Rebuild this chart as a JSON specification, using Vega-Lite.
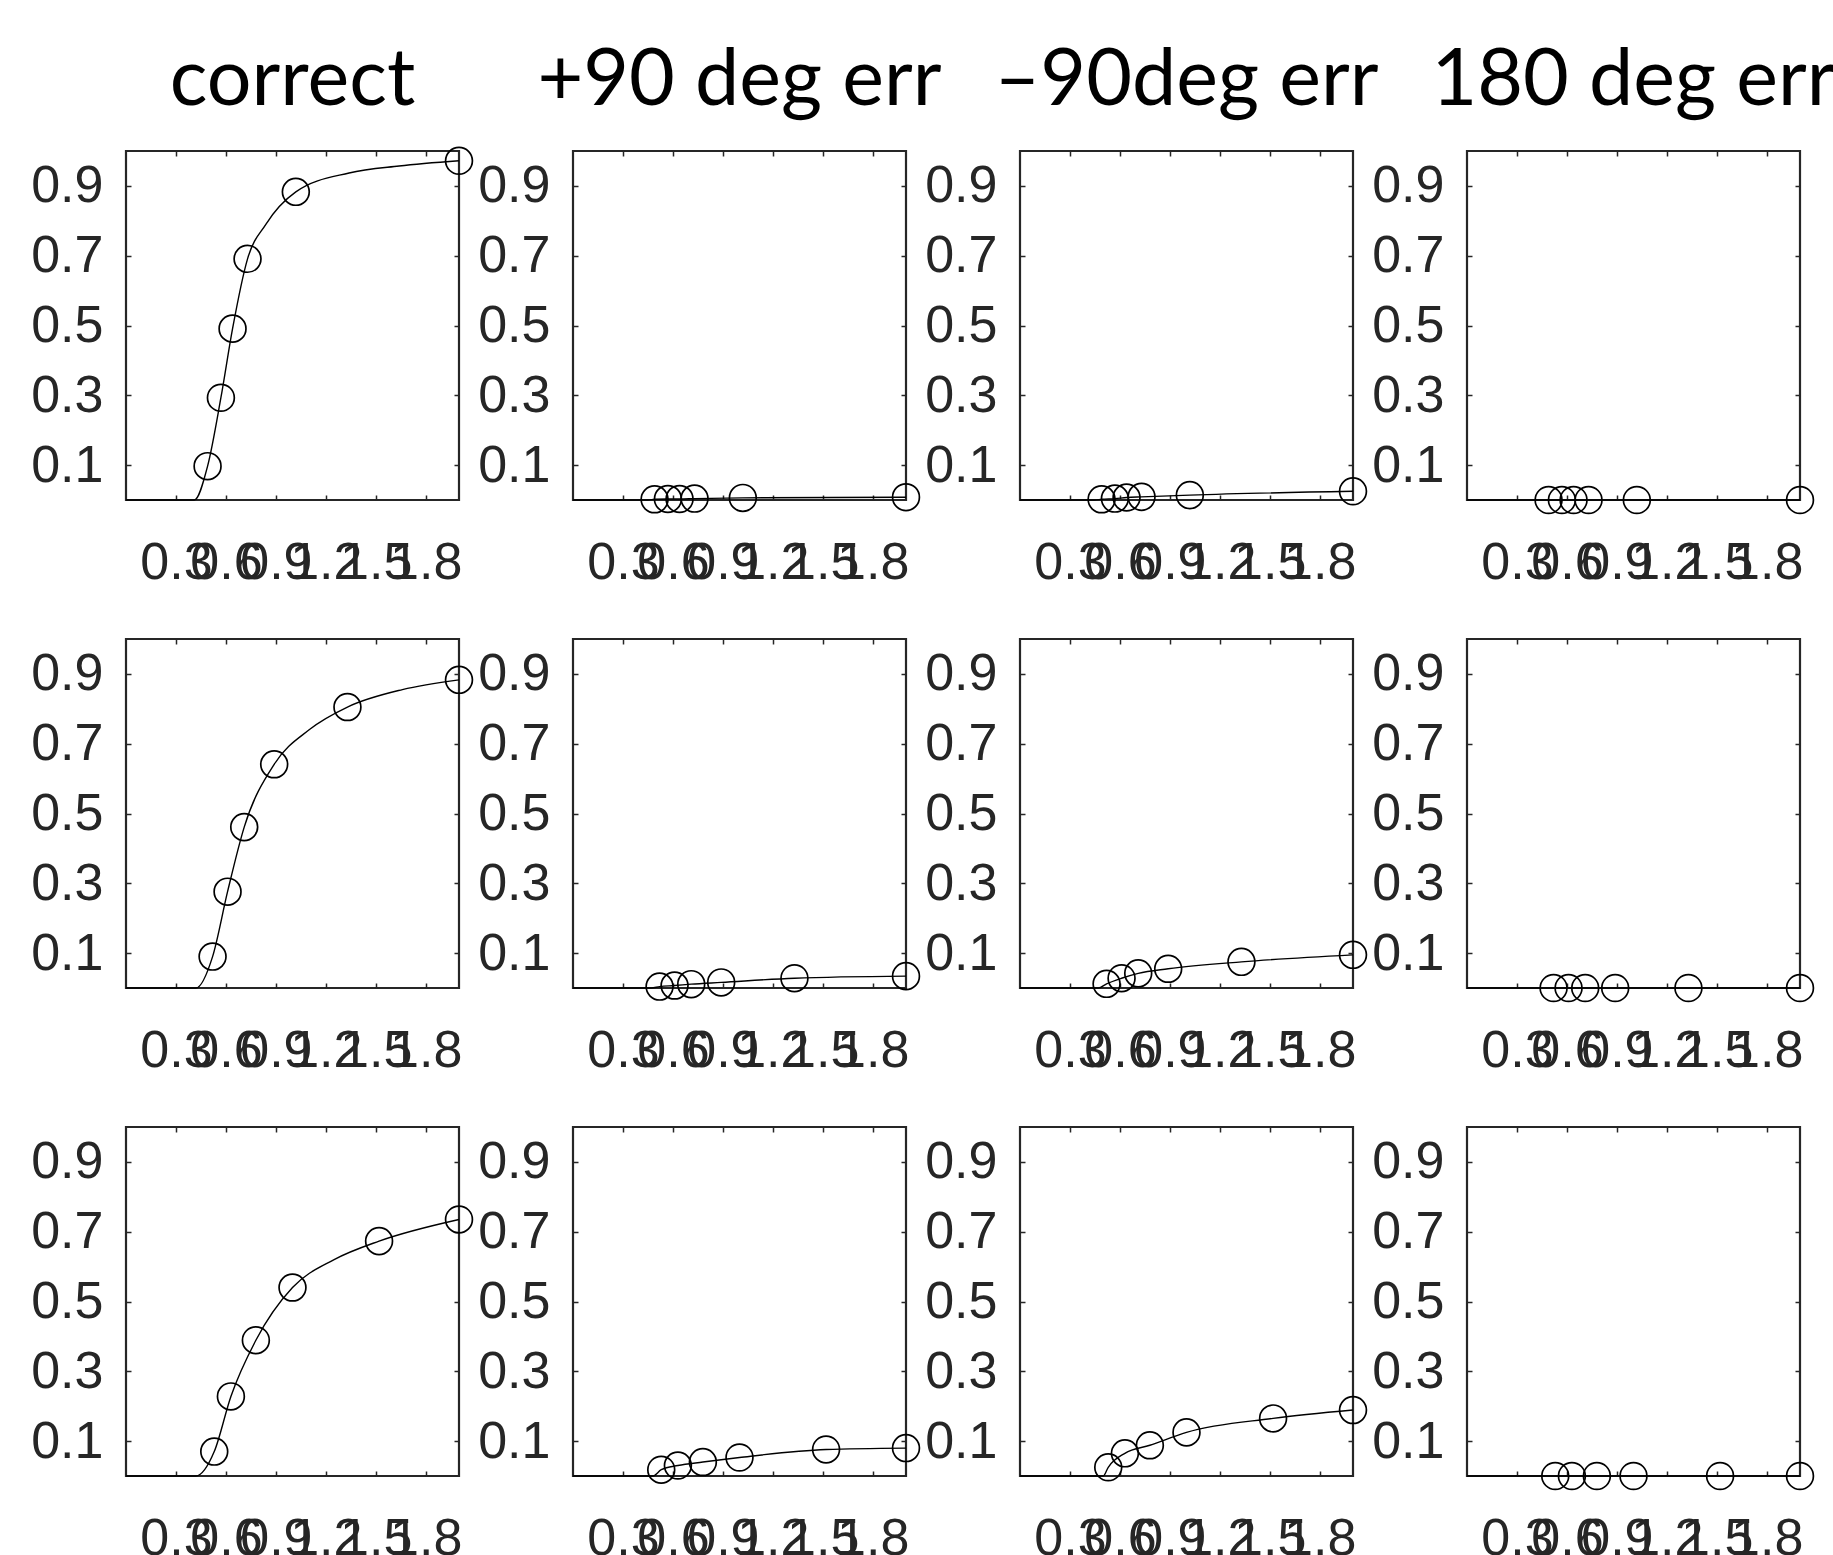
{
  "$schema": "https://vega.github.io/schema/vega-lite/v6.json",
  "padding": {"left": 29, "top": 42, "right": 0, "bottom": 0},
  "bounds": "flush",
  "spacing": {"column": 114, "row": 139},
  "data": {"values": [
    {"r":1,"c":"correct","k":"o","x":0.49,"y":0.097},
    {"r":1,"c":"correct","k":"o","x":0.57,"y":0.293},
    {"r":1,"c":"correct","k":"o","x":0.64,"y":0.491},
    {"r":1,"c":"correct","k":"o","x":0.73,"y":0.691},
    {"r":1,"c":"correct","k":"o","x":1.02,"y":0.883},
    {"r":1,"c":"correct","k":"o","x":2.0,"y":0.972},
    {"r":1,"c":"correct","k":"f","x":0,"y":0},
    {"r":1,"c":"correct","k":"f","x":0.41,"y":0},
    {"r":1,"c":"correct","k":"f","x":0.49,"y":0.097},
    {"r":1,"c":"correct","k":"f","x":0.57,"y":0.293},
    {"r":1,"c":"correct","k":"f","x":0.64,"y":0.491},
    {"r":1,"c":"correct","k":"f","x":0.73,"y":0.691},
    {"r":1,"c":"correct","k":"f","x":0.84,"y":0.79},
    {"r":1,"c":"correct","k":"f","x":1.02,"y":0.883},
    {"r":1,"c":"correct","k":"f","x":1.34,"y":0.937},
    {"r":1,"c":"correct","k":"f","x":1.64,"y":0.957},
    {"r":1,"c":"correct","k":"f","x":2.0,"y":0.972},

    {"r":1,"c":"+90 deg err","k":"o","x":0.49,"y":0.002},
    {"r":1,"c":"+90 deg err","k":"o","x":0.57,"y":0.003},
    {"r":1,"c":"+90 deg err","k":"o","x":0.64,"y":0.003},
    {"r":1,"c":"+90 deg err","k":"o","x":0.73,"y":0.004},
    {"r":1,"c":"+90 deg err","k":"o","x":1.02,"y":0.006},
    {"r":1,"c":"+90 deg err","k":"o","x":2.0,"y":0.008},
    {"r":1,"c":"+90 deg err","k":"f","x":0,"y":0},
    {"r":1,"c":"+90 deg err","k":"f","x":0.45,"y":0},
    {"r":1,"c":"+90 deg err","k":"f","x":0.49,"y":0.002},
    {"r":1,"c":"+90 deg err","k":"f","x":0.57,"y":0.003},
    {"r":1,"c":"+90 deg err","k":"f","x":0.64,"y":0.003},
    {"r":1,"c":"+90 deg err","k":"f","x":0.73,"y":0.004},
    {"r":1,"c":"+90 deg err","k":"f","x":1.02,"y":0.006},
    {"r":1,"c":"+90 deg err","k":"f","x":2.0,"y":0.008},

    {"r":1,"c":"–90deg err","k":"o","x":0.49,"y":0.002},
    {"r":1,"c":"–90deg err","k":"o","x":0.57,"y":0.004},
    {"r":1,"c":"–90deg err","k":"o","x":0.64,"y":0.007},
    {"r":1,"c":"–90deg err","k":"o","x":0.73,"y":0.009},
    {"r":1,"c":"–90deg err","k":"o","x":1.02,"y":0.014},
    {"r":1,"c":"–90deg err","k":"o","x":2.0,"y":0.025},
    {"r":1,"c":"–90deg err","k":"f","x":0,"y":0},
    {"r":1,"c":"–90deg err","k":"f","x":0.45,"y":0},
    {"r":1,"c":"–90deg err","k":"f","x":0.49,"y":0.002},
    {"r":1,"c":"–90deg err","k":"f","x":0.57,"y":0.004},
    {"r":1,"c":"–90deg err","k":"f","x":0.64,"y":0.007},
    {"r":1,"c":"–90deg err","k":"f","x":0.73,"y":0.009},
    {"r":1,"c":"–90deg err","k":"f","x":1.02,"y":0.014},
    {"r":1,"c":"–90deg err","k":"f","x":2.0,"y":0.025},

    {"r":1,"c":"180 deg err","k":"o","x":0.49,"y":0},
    {"r":1,"c":"180 deg err","k":"o","x":0.57,"y":0},
    {"r":1,"c":"180 deg err","k":"o","x":0.64,"y":0},
    {"r":1,"c":"180 deg err","k":"o","x":0.73,"y":0},
    {"r":1,"c":"180 deg err","k":"o","x":1.02,"y":0},
    {"r":1,"c":"180 deg err","k":"o","x":2.0,"y":0},
    {"r":1,"c":"180 deg err","k":"f","x":0,"y":0},
    {"r":1,"c":"180 deg err","k":"f","x":2.0,"y":0},

    {"r":2,"c":"correct","k":"o","x":0.52,"y":0.09},
    {"r":2,"c":"correct","k":"o","x":0.61,"y":0.276},
    {"r":2,"c":"correct","k":"o","x":0.71,"y":0.461},
    {"r":2,"c":"correct","k":"o","x":0.89,"y":0.641},
    {"r":2,"c":"correct","k":"o","x":1.33,"y":0.805},
    {"r":2,"c":"correct","k":"o","x":2.0,"y":0.883},
    {"r":2,"c":"correct","k":"f","x":0,"y":0},
    {"r":2,"c":"correct","k":"f","x":0.42,"y":0},
    {"r":2,"c":"correct","k":"f","x":0.52,"y":0.09},
    {"r":2,"c":"correct","k":"f","x":0.61,"y":0.276},
    {"r":2,"c":"correct","k":"f","x":0.71,"y":0.461},
    {"r":2,"c":"correct","k":"f","x":0.89,"y":0.641},
    {"r":2,"c":"correct","k":"f","x":1.1,"y":0.74},
    {"r":2,"c":"correct","k":"f","x":1.33,"y":0.805},
    {"r":2,"c":"correct","k":"f","x":1.66,"y":0.855},
    {"r":2,"c":"correct","k":"f","x":2.0,"y":0.883},

    {"r":2,"c":"+90 deg err","k":"o","x":0.52,"y":0.004},
    {"r":2,"c":"+90 deg err","k":"o","x":0.61,"y":0.007},
    {"r":2,"c":"+90 deg err","k":"o","x":0.71,"y":0.011},
    {"r":2,"c":"+90 deg err","k":"o","x":0.89,"y":0.016},
    {"r":2,"c":"+90 deg err","k":"o","x":1.33,"y":0.028},
    {"r":2,"c":"+90 deg err","k":"o","x":2.0,"y":0.034},
    {"r":2,"c":"+90 deg err","k":"f","x":0,"y":0},
    {"r":2,"c":"+90 deg err","k":"f","x":0.47,"y":0},
    {"r":2,"c":"+90 deg err","k":"f","x":0.52,"y":0.004},
    {"r":2,"c":"+90 deg err","k":"f","x":0.61,"y":0.007},
    {"r":2,"c":"+90 deg err","k":"f","x":0.71,"y":0.011},
    {"r":2,"c":"+90 deg err","k":"f","x":0.89,"y":0.016},
    {"r":2,"c":"+90 deg err","k":"f","x":1.33,"y":0.028},
    {"r":2,"c":"+90 deg err","k":"f","x":2.0,"y":0.034},

    {"r":2,"c":"–90deg err","k":"o","x":0.52,"y":0.012},
    {"r":2,"c":"–90deg err","k":"o","x":0.61,"y":0.028},
    {"r":2,"c":"–90deg err","k":"o","x":0.71,"y":0.042},
    {"r":2,"c":"–90deg err","k":"o","x":0.89,"y":0.055},
    {"r":2,"c":"–90deg err","k":"o","x":1.33,"y":0.075},
    {"r":2,"c":"–90deg err","k":"o","x":2.0,"y":0.095},
    {"r":2,"c":"–90deg err","k":"f","x":0,"y":0},
    {"r":2,"c":"–90deg err","k":"f","x":0.47,"y":0},
    {"r":2,"c":"–90deg err","k":"f","x":0.52,"y":0.012},
    {"r":2,"c":"–90deg err","k":"f","x":0.61,"y":0.028},
    {"r":2,"c":"–90deg err","k":"f","x":0.71,"y":0.042},
    {"r":2,"c":"–90deg err","k":"f","x":0.89,"y":0.055},
    {"r":2,"c":"–90deg err","k":"f","x":1.33,"y":0.075},
    {"r":2,"c":"–90deg err","k":"f","x":2.0,"y":0.095},

    {"r":2,"c":"180 deg err","k":"o","x":0.52,"y":0},
    {"r":2,"c":"180 deg err","k":"o","x":0.61,"y":0},
    {"r":2,"c":"180 deg err","k":"o","x":0.71,"y":0},
    {"r":2,"c":"180 deg err","k":"o","x":0.89,"y":0},
    {"r":2,"c":"180 deg err","k":"o","x":1.33,"y":0},
    {"r":2,"c":"180 deg err","k":"o","x":2.0,"y":0},
    {"r":2,"c":"180 deg err","k":"f","x":0,"y":0},
    {"r":2,"c":"180 deg err","k":"f","x":2.0,"y":0},

    {"r":3,"c":"correct","k":"o","x":0.53,"y":0.07},
    {"r":3,"c":"correct","k":"o","x":0.63,"y":0.228},
    {"r":3,"c":"correct","k":"o","x":0.78,"y":0.389},
    {"r":3,"c":"correct","k":"o","x":1.0,"y":0.54},
    {"r":3,"c":"correct","k":"o","x":1.52,"y":0.673},
    {"r":3,"c":"correct","k":"o","x":2.0,"y":0.735},
    {"r":3,"c":"correct","k":"f","x":0,"y":0},
    {"r":3,"c":"correct","k":"f","x":0.42,"y":0},
    {"r":3,"c":"correct","k":"f","x":0.53,"y":0.07},
    {"r":3,"c":"correct","k":"f","x":0.63,"y":0.228},
    {"r":3,"c":"correct","k":"f","x":0.78,"y":0.389},
    {"r":3,"c":"correct","k":"f","x":1.0,"y":0.54},
    {"r":3,"c":"correct","k":"f","x":1.25,"y":0.62},
    {"r":3,"c":"correct","k":"f","x":1.52,"y":0.673},
    {"r":3,"c":"correct","k":"f","x":2.0,"y":0.735},

    {"r":3,"c":"+90 deg err","k":"o","x":0.53,"y":0.018},
    {"r":3,"c":"+90 deg err","k":"o","x":0.63,"y":0.03},
    {"r":3,"c":"+90 deg err","k":"o","x":0.78,"y":0.04},
    {"r":3,"c":"+90 deg err","k":"o","x":1.0,"y":0.053},
    {"r":3,"c":"+90 deg err","k":"o","x":1.52,"y":0.076},
    {"r":3,"c":"+90 deg err","k":"o","x":2.0,"y":0.08},
    {"r":3,"c":"+90 deg err","k":"f","x":0,"y":0},
    {"r":3,"c":"+90 deg err","k":"f","x":0.48,"y":0},
    {"r":3,"c":"+90 deg err","k":"f","x":0.53,"y":0.018},
    {"r":3,"c":"+90 deg err","k":"f","x":0.63,"y":0.03},
    {"r":3,"c":"+90 deg err","k":"f","x":0.78,"y":0.04},
    {"r":3,"c":"+90 deg err","k":"f","x":1.0,"y":0.053},
    {"r":3,"c":"+90 deg err","k":"f","x":1.52,"y":0.076},
    {"r":3,"c":"+90 deg err","k":"f","x":2.0,"y":0.08},

    {"r":3,"c":"–90deg err","k":"o","x":0.53,"y":0.025},
    {"r":3,"c":"–90deg err","k":"o","x":0.63,"y":0.065},
    {"r":3,"c":"–90deg err","k":"o","x":0.78,"y":0.088},
    {"r":3,"c":"–90deg err","k":"o","x":1.0,"y":0.125},
    {"r":3,"c":"–90deg err","k":"o","x":1.52,"y":0.165},
    {"r":3,"c":"–90deg err","k":"o","x":2.0,"y":0.189},
    {"r":3,"c":"–90deg err","k":"f","x":0,"y":0},
    {"r":3,"c":"–90deg err","k":"f","x":0.5,"y":0},
    {"r":3,"c":"–90deg err","k":"f","x":0.53,"y":0.025},
    {"r":3,"c":"–90deg err","k":"f","x":0.63,"y":0.065},
    {"r":3,"c":"–90deg err","k":"f","x":0.78,"y":0.088},
    {"r":3,"c":"–90deg err","k":"f","x":1.0,"y":0.125},
    {"r":3,"c":"–90deg err","k":"f","x":1.52,"y":0.165},
    {"r":3,"c":"–90deg err","k":"f","x":2.0,"y":0.189},

    {"r":3,"c":"180 deg err","k":"o","x":0.53,"y":0},
    {"r":3,"c":"180 deg err","k":"o","x":0.63,"y":0},
    {"r":3,"c":"180 deg err","k":"o","x":0.78,"y":0},
    {"r":3,"c":"180 deg err","k":"o","x":1.0,"y":0},
    {"r":3,"c":"180 deg err","k":"o","x":1.52,"y":0},
    {"r":3,"c":"180 deg err","k":"o","x":2.0,"y":0},
    {"r":3,"c":"180 deg err","k":"f","x":0,"y":0},
    {"r":3,"c":"180 deg err","k":"f","x":2.0,"y":0}
  ]},
  "facet": {
    "row": {"field": "r", "type": "ordinal", "header": null},
    "column": {"field": "c", "type": "nominal", "sort": ["correct", "+90 deg err", "–90deg err", "180 deg err"],
      "header": {"title": null, "labelFont": "Lato", "labelFontSize": 79, "labelColor": "black", "labelPadding": -33, "labelBaseline": "alphabetic"}}
  },
  "resolve": {"axis": {"x": "independent", "y": "independent"}},
  "spec": {
    "width": 333,
    "height": 349,
    "layer": [
      {
        "transform": [{"filter": "datum.k === 'f'"}],
        "mark": {"type": "line", "color": "black", "strokeWidth": 1.4, "interpolate": "monotone", "clip": false},
        "encoding": {
          "x": {"field": "x", "type": "quantitative", "scale": {"domain": [0, 2], "nice": false, "zero": false},
            "axis": {"orient": "bottom", "values": [0.3, 0.6, 0.9, 1.2, 1.5, 1.8], "format": ".1f", "labelPadding": 42}},
          "y": {"field": "y", "type": "quantitative", "scale": {"domain": [0, 1], "nice": false, "zero": false},
            "axis": {"orient": "left", "values": [0.1, 0.3, 0.5, 0.7, 0.9], "format": ".1f", "labelPadding": 28}}
        }
      },
      {
        "transform": [{"filter": "datum.k === 'o'"}],
        "mark": {"type": "point", "shape": "circle", "filled": false, "color": "black", "size": 720, "strokeWidth": 1.7, "opacity": 1, "clip": false},
        "encoding": {
          "x": {"field": "x", "type": "quantitative",
            "axis": {"orient": "top", "values": [0.3, 0.6, 0.9, 1.2, 1.5, 1.8], "labels": false}},
          "y": {"field": "y", "type": "quantitative",
            "axis": {"orient": "right", "values": [0.1, 0.3, 0.5, 0.7, 0.9], "labels": false}}
        }
      }
    ],
    "resolve": {"axis": {"x": "independent", "y": "independent"}}
  },
  "config": {
    "view": {"stroke": "#262626", "strokeWidth": 2.2},
    "axis": {
      "title": null,
      "grid": false,
      "domain": false,
      "ticks": true,
      "tickSize": -5,
      "tickColor": "#262626",
      "tickWidth": 1.5,
      "labelFont": "Liberation Sans",
      "labelFontSize": 52,
      "labelColor": "#262626",
      "labelOverlap": false,
      "labelFlush": false,
      "labelBound": false
    }
  }
}
